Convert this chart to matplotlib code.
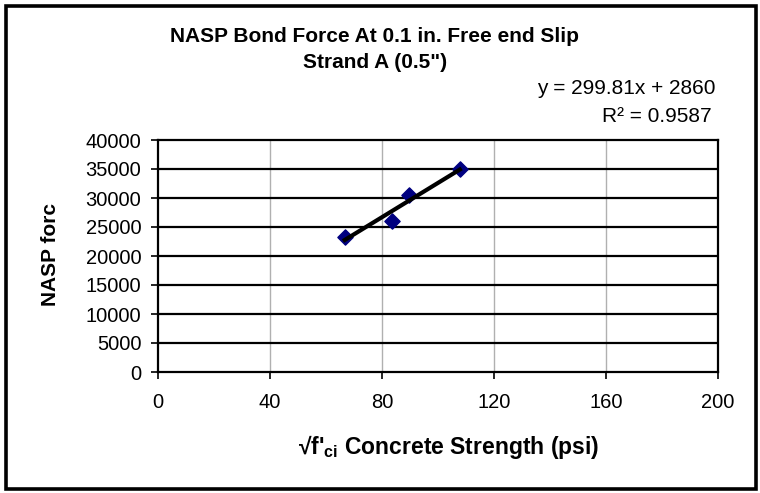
import matplotlib.pyplot as plt
import numpy as np
from matplotlib.patches import Rectangle

plt.rcParams['font.family'] = ['Liberation Sans', 'DejaVu Sans']
plt.rcParams['mathtext.fontset'] = 'custom'
plt.rcParams['mathtext.rm'] = 'Liberation Sans'
plt.rcParams['mathtext.bf'] = 'Liberation Sans:bold'

# sqrt(f'ci) in psi^0.5 and NASP bond force (lbs)
sqrt_fci = [66.7, 83.4, 89.6, 107.8]
nasp_force = [23300, 26000, 30600, 35000]

x_ticks = [0, 40, 80, 120, 160, 200]
y_ticks = [0, 5000, 10000, 15000, 20000, 25000, 30000, 35000, 40000]

eq_text = "y = 299.81x + 2860"
r2_text = "R² = 0.9587"

fig = plt.figure(figsize=(7.6, 4.93), dpi=100)
ax = fig.add_axes([158 / 760, 1 - 372 / 493, 560 / 760, 232 / 493])

# outer chart frame
fig.patches.append(Rectangle((6 / 760, 4 / 493), 750 / 760, 483 / 493,
                             transform=fig.transFigure, fill=False,
                             edgecolor='black', linewidth=2.6))

ax.set_xlim(0, 200)
ax.set_ylim(0, 40000)
ax.set_xticks(x_ticks)
ax.set_yticks(y_ticks)

for v in x_ticks[1:-1]:
    ax.axvline(v, color='#b0b0b0', linewidth=1.0, zorder=0)
for v in y_ticks[1:-1]:
    ax.axhline(v, color='black', linewidth=1.6, zorder=0)

ax.scatter(sqrt_fci, nasp_force, marker='D', s=60, color='#000080',
           edgecolor='#000080', zorder=3)

# linear trendline over the data range
coef = np.polyfit(sqrt_fci, nasp_force, 1)
xs = np.array([min(sqrt_fci), max(sqrt_fci)])
ax.plot(xs, np.polyval(coef, xs), color='black', linewidth=3, zorder=4)

for s in ax.spines.values():
    s.set_linewidth(1.6)
    s.set_color('black')

ax.tick_params(axis='x', direction='out', length=5, width=1.2, pad=10, labelsize=14.5)
ax.tick_params(axis='y', direction='out', length=5, width=1.2, pad=7, labelsize=14.5)

fig.text(0.493, 1 - 37 / 493, "NASP Bond Force At 0.1 in. Free end Slip",
         ha='center', va='center', fontsize=15, fontweight='bold')
fig.text(0.493, 1 - 62 / 493, "Strand A (0.5\")",
         ha='center', va='center', fontsize=15, fontweight='bold')

fig.text(716 / 760, 1 - 89 / 493, eq_text, ha='right', va='center', fontsize=15)
fig.text(712 / 760, 1 - 117 / 493, r2_text, ha='right', va='center', fontsize=15)

fig.text(50 / 760, 1 - 255 / 493, "NASP forc", rotation=90,
         ha='center', va='center', fontsize=15, fontweight='bold')
fig.text(449 / 760, 1 - 447 / 493, r"√f'$_\mathbf{ci}$ Concrete Strength (psi)",
         ha='center', va='center', fontsize=16.5, fontweight='bold')

fig.savefig('out.png', dpi=100)
